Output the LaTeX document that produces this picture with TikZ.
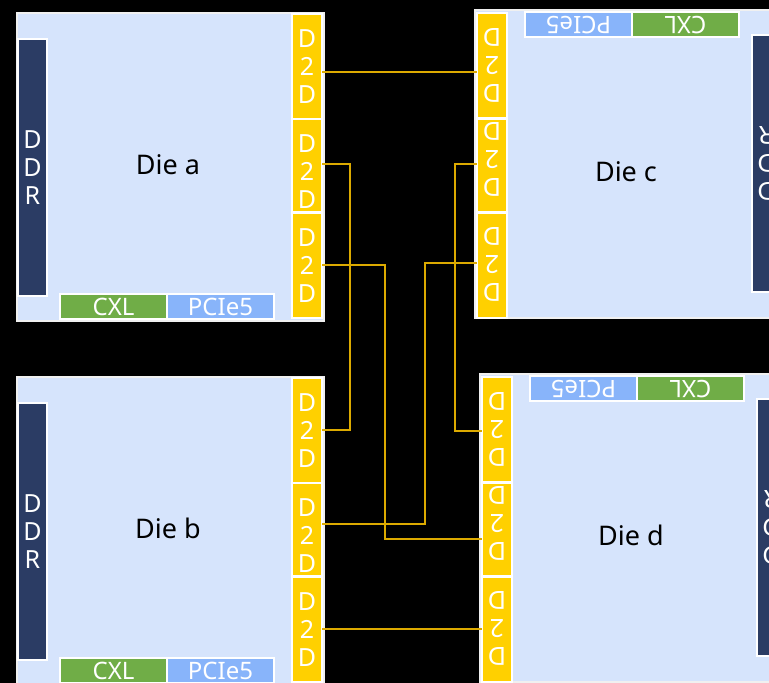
\documentclass[tikz,border=0pt]{standalone}
\usepackage{fontspec}
\setmainfont{Noto Sans}
\definecolor{dieblue}{HTML}{D6E4FC}
\definecolor{d2dyellow}{HTML}{FFD000}
\definecolor{ddrblue}{HTML}{2B3C64}
\definecolor{cxlgreen}{HTML}{70AD47}
\definecolor{pcieblue}{HTML}{88B4FA}
\definecolor{linkgold}{HTML}{DCAA00}
\tikzset{
  bx/.style={rectangle, inner sep=0pt, outer sep=0pt, line width=2pt, draw=white},
  body/.style={bx, fill=dieblue, draw=white!94!black},
  d2d/.style={bx, fill=d2dyellow},
  ddr/.style={bx, fill=ddrblue},
  cxl/.style={bx, fill=cxlgreen},
  pcie/.style={bx, fill=pcieblue},
  vtxt/.style={text=white, font=\fontsize{25}{28}\selectfont, align=center, inner sep=0pt},
  htxt/.style={text=white, font=\fontsize{24}{24}\selectfont, inner sep=0pt, text height=17pt, text depth=0pt},
  lbl/.style={text=black, font=\fontsize{27}{27}\selectfont, inner sep=0pt, text height=19.3pt, text depth=0pt},
  link/.style={draw=linkgold, line width=1.1pt},
}
\newcommand\rbox[6]{\node[#2, minimum width={#5-#3}, minimum height={#6-#4}] (#1) at ({(#3+#5)/2},{(#4+#6)/2}) {};}
\newcommand\leftdie[4]{%
\begin{scope}[shift={(#2,#3)}]
  \rbox{#1}{body}{1}{1}{308}{309}
  \rbox{#1ddr}{ddr}{2}{27}{31}{284}
  \rbox{#1cxl}{cxl}{44}{282}{151}{307}
  \rbox{#1pcie}{pcie}{151}{282}{258}{307}
  \rbox{#11}{d2d}{276}{1.5}{306}{106.5}
  \rbox{#12}{d2d}{276}{107}{306}{200}
  \rbox{#13}{d2d}{276}{201}{306}{306}
  \node[vtxt] (#11t) at (291,55) {D\\2\\D};
  \node[vtxt] (#12t) at (291,160) {D\\2\\D};
  \node[vtxt] (#13t) at (291,253.5) {D\\2\\D};
  \node[vtxt] (#1ddrt) at (16.5,155.5) {D\\D\\R};
  \node[htxt] (#1cxlt) at (97.5,294.5) {CXL};
  \node[htxt] (#1pciet) at (204.5,294.5) {PCIe5};
  \node[lbl] (#1lbl) at (152,153) {#4};
\end{scope}}
\newcommand\rightdie[4]{%
\begin{scope}[shift={(#2,#3)}]
  \rbox{#1}{body}{1}{1}{308}{309}
  \rbox{#1ddr}{ddr}{278}{26}{307}{283}
  \rbox{#1cxl}{cxl}{158}{3}{265}{28}
  \rbox{#1pcie}{pcie}{51}{3}{158}{28}
  \rbox{#11}{d2d}{3}{4}{33}{109}
  \rbox{#12}{d2d}{3}{110}{33}{203}
  \rbox{#13}{d2d}{3}{203.5}{33}{308.5}
  \node[vtxt, rotate=180] (#11t) at (18,56.5) {D\\2\\D};
  \node[vtxt, rotate=180] (#12t) at (18,150) {D\\2\\D};
  \node[vtxt, rotate=180] (#13t) at (18,255) {D\\2\\D};
  \node[vtxt, rotate=180] (#1ddrt) at (292.5,154.5) {D\\D\\R};
  \node[htxt, rotate=180] (#1cxlt) at (211.5,15.5) {CXL};
  \node[htxt, rotate=180] (#1pciet) at (104.5,15.5) {PCIe5};
  \node[lbl] (#1lbl) at (152,163) {#4};
\end{scope}}
\begin{document}
\begin{tikzpicture}[x=1pt, y=-1pt]
  \useasboundingbox (0,0) rectangle (769,683);
  \clip (0,0) rectangle (769,683);
  \fill[black] (0,0) rectangle (769,683);
  \leftdie{a}{16}{12}{Die a}
  \leftdie{b}{16}{376}{Die b}
  \rightdie{c}{474}{9}{Die c}
  \rightdie{d}{479}{373}{Die d}
  % connectors
  \draw[link] ([yshift=-6pt]a1.east) -- ([yshift=-6pt]a1.east -| c1.west);
  \draw[link] ([yshift=1.5pt]a2.east) -- ++(28,0) |- (b1.east);
  \draw[link] ([yshift=0.5pt]a3.east) -- ++(63,0) |- ([yshift=-9.5pt]d2.west);
  \draw[link] ([yshift=5.5pt]b2.east) -- ++(103,0) |- ([yshift=2pt]c3.west);
  \draw[link] ([yshift=1.5pt]c2.west) -- ++(-22,0) |- ([yshift=-1.5pt]d1.west);
  \draw[link] ([yshift=0.5pt]b3.east) -- ([yshift=0.5pt]b3.east -| d3.west);
\end{tikzpicture}
\end{document}
